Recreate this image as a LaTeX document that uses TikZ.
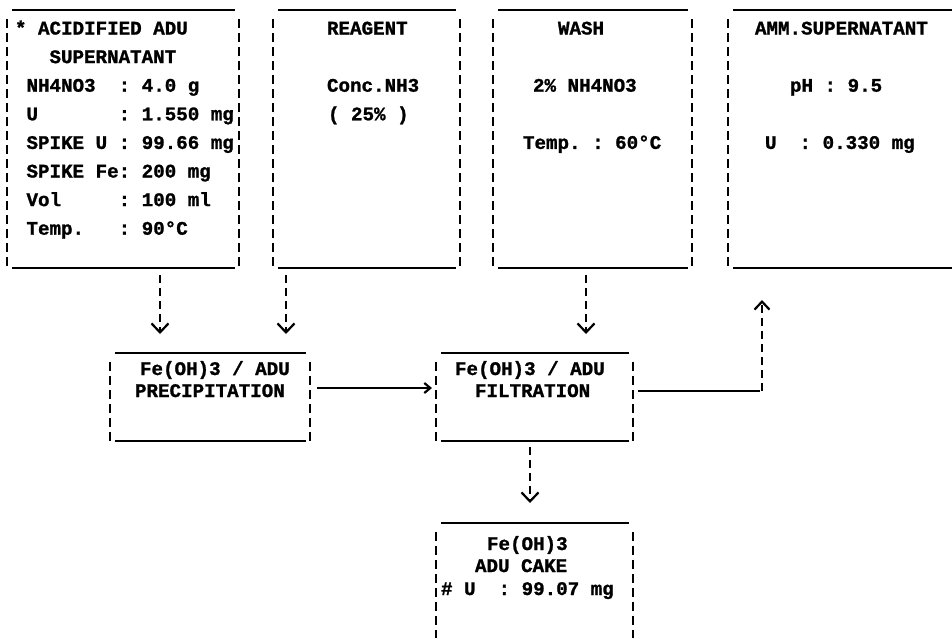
\documentclass[tikz,border=0pt]{standalone}
\usepackage{fontspec}
\setmonofont{Liberation Mono}[BoldFeatures={FakeBold=1.2}]
\usetikzlibrary{arrows.meta}
\tikzset{
  frame/.style={draw=none, inner sep=0pt, outer sep=0pt, anchor=north west},
  rule/.style={line width=2.4pt, line cap=butt},
  side/.style={line width=2.2pt, dash pattern=on 9pt off 5pt},
  dconn/.style={line width=2.2pt, dash pattern=on 8pt off 5pt},
  sconn/.style={line width=2.2pt},
  txt/.style={font=\fontsize{19.2}{23}\selectfont\ttfamily\bfseries, inner sep=0pt, outer sep=0pt, anchor=base west},
  vhead/.style={-{Straight Barb[length=9pt,width=17pt]}},
  rhead/.style={-{Straight Barb[length=6pt,width=10pt]}},
  uhead/.style={-{Straight Barb[length=8pt,width=15pt]}},
}
\newcommand\drawtopbot[1]{%
  \draw[rule] ([xshift=5pt]#1.north west) -- ([xshift=-4pt]#1.north east);
  \draw[rule] ([xshift=5pt]#1.south west) -- ([xshift=-4pt]#1.south east);}
\newcommand\drawsides[1]{%
  \draw[side] ([yshift=-9pt]#1.north west) -- (#1.south west);
  \draw[side] ([yshift=-9pt]#1.north east) -- (#1.south east);}
\begin{document}
\begin{tikzpicture}[x=1pt,y=-1pt]
\useasboundingbox[fill=white] (0,0) rectangle (952,638);

% boxes
\node[frame, minimum width=232pt, minimum height=258pt] (b1) at (7,10) {};
\node[frame, minimum width=187pt, minimum height=258pt] (b2) at (273,10) {};
\node[frame, minimum width=199pt, minimum height=258pt] (b3) at (493,10) {};
\node[frame, minimum width=224pt, minimum height=258pt] (b4) at (728,10) {};
\node[frame, minimum width=200pt, minimum height=88pt] (p) at (110,353) {};
\node[frame, minimum width=197pt, minimum height=88pt] (f) at (436,353) {};
\node[frame, minimum width=197pt, minimum height=115pt] (c) at (436,523) {};

\drawtopbot{b1}\drawsides{b1}
\drawtopbot{b2}\drawsides{b2}
\drawtopbot{b3}\drawsides{b3}
\draw[rule] ([xshift=5pt]b4.north west) -- (b4.north east);
\draw[rule] ([xshift=5pt]b4.south west) -- (b4.south east);
\draw[side] ([yshift=-9pt]b4.north west) -- (b4.south west);
\drawtopbot{p}\drawsides{p}
\drawtopbot{f}\drawsides{f}
\draw[rule] ([xshift=5pt]c.north west) -- ([xshift=-4pt]c.north east);
\drawsides{c}

% texts box 1
\node[txt] (t1a) at (15,34.5) {*~ACIDIFIED~ADU};
\node[txt] (t1b) at (49.5,63.1) {SUPERNATANT};
\node[txt] (t1c) at (26.5,91.7) {NH4NO3~~:~4.0~g};
\node[txt] (t1d) at (26.5,120.3) {U~~~~~~~:~1.550~mg};
\node[txt] (t1e) at (26.5,148.9) {SPIKE~U~:~99.66~mg};
\node[txt] (t1f) at (26.5,177.5) {SPIKE~Fe:~200~mg};
\node[txt] (t1g) at (26.5,206.1) {Vol~~~~~:~100~ml};
\node[txt] (t1h) at (26.5,234.7) {Temp.~~~:~90°C};
% box 2
\node[txt] (t2a) at (327,34.5) {REAGENT};
\node[txt] (t2b) at (327,91.7) {Conc.NH3};
\node[txt] (t2c) at (328,120.3) {(~25\%~)};
% box 3
\node[txt] (t3a) at (558,34.5) {WASH};
\node[txt] (t3b) at (533,91.7) {2\%~NH4NO3};
\node[txt] (t3c) at (523,148.9) {Temp.~:~60°C};
% box 4
\node[txt] (t4a) at (755,34.5) {AMM.SUPERNATANT};
\node[txt] (t4b) at (790,91.7) {pH~:~9.5};
\node[txt] (t4c) at (765,148.9) {U~~:~0.330~mg};
% precipitation
\node[txt] (tpa) at (140,375) {Fe(OH)3~/~ADU};
\node[txt] (tpb) at (135,397) {PRECIPITATION};
% filtration
\node[txt] (tfa) at (455,375) {Fe(OH)3~/~ADU};
\node[txt] (tfb) at (475,397) {FILTRATION};
% cake
\node[txt] (tca) at (487,550) {Fe(OH)3};
\node[txt] (tcb) at (475,572) {ADU~CAKE};
\node[txt] (tcc) at (441,595) {\#~U~~:~99.07~mg};

% connectors
\draw[dconn, vhead] ([xshift=153pt,yshift=-7pt]b1.south west) -- ([xshift=50pt,yshift=19pt]p.north west);
\draw[dconn, vhead] ([xshift=13pt,yshift=-7pt]b2.south west) -- ([xshift=176pt,yshift=19pt]p.north west);
\draw[dconn, vhead] ([xshift=93pt,yshift=-7pt]b3.south west) -- ([xshift=150pt,yshift=19pt]f.north west);
\draw[sconn, rhead] ([xshift=7pt,yshift=9pt]p.east) -- ([xshift=-4pt,yshift=9pt]f.west);
\coordinate (corner) at (762,391);
\draw[sconn] ([xshift=5pt,yshift=6pt]f.east) -- ([xshift=-2pt]corner);
\draw[dconn, uhead] (corner) -- ([xshift=34pt,yshift=-32pt]b4.south west);
\draw[dconn, vhead] ([xshift=94pt,yshift=-6pt]f.south west) -- ([xshift=94pt,yshift=20pt]c.north west);
\end{tikzpicture}
\end{document}
